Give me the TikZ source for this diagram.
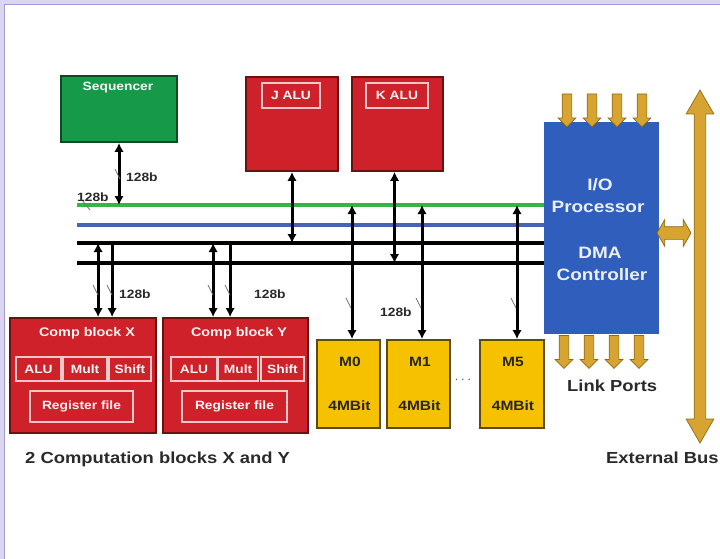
\documentclass[tikz,border=0pt]{standalone}
\usepackage{fontspec}
\setmainfont[FakeStretch=1.15]{Liberation Sans}
\usetikzlibrary{arrows.meta,shapes.arrows}
\definecolor{lav}{HTML}{D9D6EF}
\definecolor{lavline}{HTML}{A29AD6}
\definecolor{gfill}{HTML}{17994A}
\definecolor{gdark}{HTML}{0C4A24}
\definecolor{rfill}{HTML}{CF2129}
\definecolor{rdark}{HTML}{6A1212}
\definecolor{yfill}{HTML}{F6C200}
\definecolor{ydark}{HTML}{5C4A12}
\definecolor{bfill}{HTML}{2F5EBD}
\definecolor{gold}{HTML}{D7A431}
\definecolor{golddark}{HTML}{8F6A17}
\definecolor{gbus}{HTML}{35B44A}
\definecolor{bbus}{HTML}{4566AE}
\definecolor{txt}{HTML}{2A2A2A}
\tikzset{
  box/.style={draw, line width=1.8pt, inner sep=0pt},
  seqbox/.style={box, fill=gfill, draw=gdark},
  redbox/.style={box, fill=rfill, draw=rdark},
  membox/.style={box, fill=yfill, draw=ydark},
  iobox/.style={box, fill=bfill, draw=bfill},
  inbox/.style={draw=white!75!rfill, line width=1.1pt, inner sep=0pt, text=white!95!rfill,
    font=\bfseries\fontsize{12}{13}\selectfont},
  wtext/.style={text=white!95!rfill, inner sep=0pt, font=\bfseries\fontsize{12.5}{14}\selectfont},
  iotext/.style={text=white!90!bfill, inner sep=0pt, font=\bfseries\fontsize{16.5}{18}\selectfont},
  mtext/.style={text=black!85, inner sep=0pt, font=\bfseries\fontsize{13.5}{15}\selectfont},
  lbl/.style={text=txt, inner sep=0pt, font=\bfseries\fontsize{12}{13}\selectfont},
  captext/.style={text=txt, inner sep=0pt, font=\bfseries\fontsize{16}{18}\selectfont},
  conn/.style={line width=3pt, draw=black, -{Latex[length=9pt,width=9.5pt]}},
  dconn/.style={line width=3pt, draw=black, {Latex[length=9pt,width=9.5pt]}-{Latex[length=9pt,width=9.5pt]}},
  busline/.style={line width=3.4pt},
  tickmark/.style={line width=0.8pt, draw=black!55},
  linkarrow/.style={single arrow, draw=golddark, fill=gold, line width=0.7pt,
    inner sep=4.5pt, single arrow head extend=4pt, minimum height=33pt,
    shape border rotate=270},
  extbus/.style={double arrow, draw=golddark, fill=gold, line width=0.7pt,
    inner sep=5.5pt, double arrow head extend=8pt, double arrow tip angle=60,
    minimum height=353pt, shape border rotate=90},
  hbus/.style={double arrow, draw=golddark, fill=gold, line width=0.7pt,
    inner sep=6pt, double arrow head extend=7pt, double arrow tip angle=120,
    minimum height=34pt}
}
\begin{document}
\begin{tikzpicture}[x=1pt,y=-1pt]
\useasboundingbox (0,0) rectangle (720,559);
\fill[lav] (0,0) rectangle (720,559);
\begin{scope}
\clip (0,0) rectangle (720,559);
\draw[lavline, line width=1pt, fill=white] (4.5,4.5) rectangle (730,570);

% top boxes
\node[seqbox, minimum width=116pt, minimum height=66pt] (seq) at (119,109) {};
\node[wtext, text=white!95!gfill, font=\bfseries\fontsize{12}{13}\selectfont] (seqt) at (118,88) {Sequencer};
\node[redbox, minimum width=92pt, minimum height=94pt] (jalu) at (292,124) {};
\node[inbox, minimum width=58pt, minimum height=25pt] (jalut) at (291,95.5) {J ALU};
\node[redbox, minimum width=91pt, minimum height=94pt] (kalu) at (397.5,124) {};
\node[inbox, minimum width=62pt, minimum height=25pt] (kalut) at (397,95.5) {K ALU};

% IO processor
\node[iobox, minimum width=113pt, minimum height=210pt] (io) at (601.5,228) {};
\node[iotext] (io1) at (600,185) {I/O};
\node[iotext] (io2) at (598,207) {Processor};
\node[iotext] (io3) at (600,253) {DMA};
\node[iotext] (io4) at (602,275) {Controller};

% computation blocks
\node[redbox, minimum width=146pt, minimum height=115pt] (cx) at (83,375.5) {};
\node[wtext] (cxt) at (87,333) {Comp block X};
\node[inbox, minimum width=45pt, minimum height=24pt] (cxa) at (38.5,369) {ALU};
\node[inbox, minimum width=44pt, minimum height=24pt] (cxm) at (85,369) {Mult};
\node[inbox, minimum width=42pt, minimum height=24pt] (cxs) at (130,369) {Shift};
\node[inbox, minimum width=103pt, minimum height=31pt] (cxr) at (81.5,406.5) {Register file};

\node[redbox, minimum width=145pt, minimum height=115pt] (cy) at (235.5,375.5) {};
\node[wtext] (cyt) at (239,333) {Comp block Y};
\node[inbox, minimum width=46pt, minimum height=24pt] (cya) at (194,369) {ALU};
\node[inbox, minimum width=40pt, minimum height=24pt] (cym) at (238,369) {Mult};
\node[inbox, minimum width=43pt, minimum height=24pt] (cys) at (282.5,369) {Shift};
\node[inbox, minimum width=105pt, minimum height=31pt] (cyr) at (234.5,406.5) {Register file};

% memory blocks
\node[membox, minimum width=63pt, minimum height=88pt] (m0) at (348.5,384) {};
\node[mtext] (m0a) at (350,362) {M0};
\node[mtext] (m0b) at (349.5,406) {4MBit};
\node[membox, minimum width=63pt, minimum height=88pt] (m1) at (418.5,384) {};
\node[mtext] (m1a) at (420,362) {M1};
\node[mtext] (m1b) at (419.5,406) {4MBit};
\node[membox, minimum width=64pt, minimum height=88pt] (m5) at (512,384) {};
\node[mtext] (m5a) at (513,362) {M5};
\node[mtext] (m5b) at (513,406) {4MBit};
\node[text=black!65, inner sep=0pt, font=\bfseries\fontsize{15}{16}\selectfont] (dots) at (463,380) {$\cdots$};

% buses
\coordinate (gL) at (77,205);
\coordinate (bL) at (77,225);
\coordinate (k1L) at (77,243);
\coordinate (k2L) at (77,263);
\draw[busline, gbus] (gL) -- (gL -| io.west);
\draw[busline, bbus] (bL) -- (bL -| io.west);
\draw[busline, black] (k1L) -- (k1L -| io.west);
\draw[busline, black] (k2L) -- (k2L -| io.west);

% connectors
\draw[dconn] (seq.south) -- (seq.south |- gL);
\draw[dconn] (jalu.south) -- (jalu.south |- k1L);
\coordinate (ka) at ([xshift=-3pt]kalu.south);
\draw[dconn] (ka) -- (ka |- k2L);

\coordinate (cx1) at ([xshift=89pt]cx.north west);
\coordinate (cx2) at ([xshift=103pt]cx.north west);
\draw[dconn] (cx1 |- k1L) -- (cx1);
\draw[conn] (cx2 |- k1L) -- (cx2);
\coordinate (cy1) at ([xshift=51pt]cy.north west);
\coordinate (cy2) at ([xshift=68pt]cy.north west);
\draw[dconn] (cy1 |- k1L) -- (cy1);
\draw[conn] (cy2 |- k1L) -- (cy2);

\coordinate (mm0) at ([xshift=3.5pt]m0.north);
\coordinate (mm1) at ([xshift=3.5pt]m1.north);
\coordinate (mm5) at ([xshift=5pt]m5.north);
\draw[dconn] (mm0 |- gL) -- (mm0);
\draw[dconn] (mm1 |- gL) -- (mm1);
\draw[dconn] (mm5 |- gL) -- (mm5);

% tick marks
\foreach \x/\y in {119/174, 97/290, 111/290, 212/290, 229/290, 350/303, 420/303, 515/303}
  \draw[tickmark] (\x-4,\y-5) -- (\x+1,\y+5);
\draw[tickmark] (82,200) -- (90,210);

% labels
\node[lbl, anchor=west] (l1) at (126,177) {128b};
\node[lbl, anchor=west] (l2) at (77,197) {128b};
\node[lbl, anchor=west] (l3) at (119,294) {128b};
\node[lbl, anchor=west] (l4) at (254,294) {128b};
\node[lbl, anchor=west] (l5) at (380,312) {128b};

% gold arrows
\foreach \x [count=\i] in {567,592,617,642}
  \node[linkarrow] (lt\i) at (\x,108) {};
\foreach \x [count=\i] in {564,589,614,639}
  \node[linkarrow] (lb\i) at (\x,349.5) {};
\node[extbus] (eb) at (700,266.5) {};
\node[hbus] (hb) at (674,233) {};

% captions
\node[captext, anchor=west] (lp) at (567,386) {Link Ports};
\node[captext, anchor=west] (ebt) at (606,458) {External Bus};
\node[captext, anchor=west] (cb) at (25,459) {2 Computation blocks X and Y};
\end{scope}
\end{tikzpicture}
\end{document}
